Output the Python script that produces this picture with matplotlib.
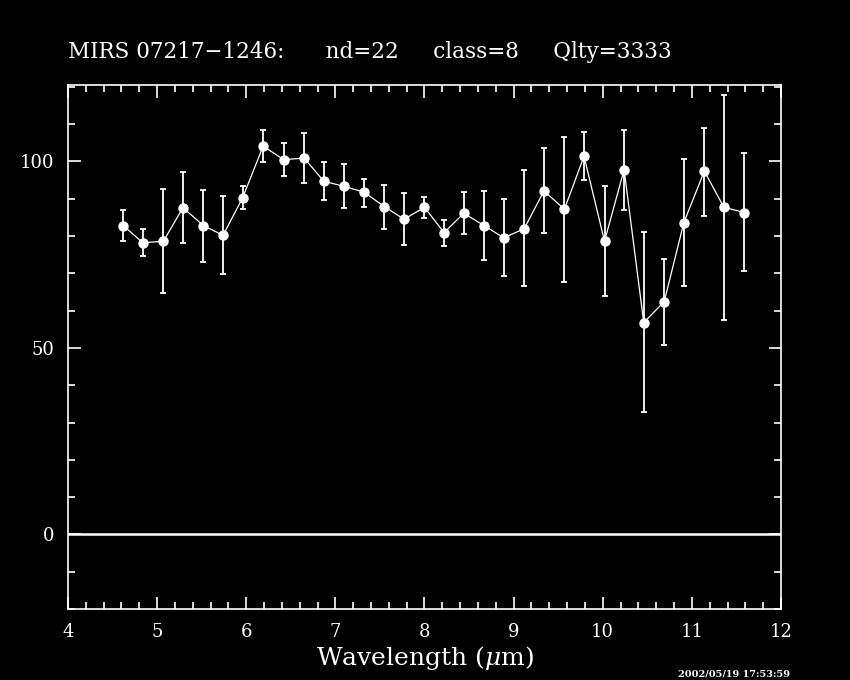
import matplotlib
matplotlib.use("Agg")
import matplotlib.pyplot as plt
from matplotlib.ticker import MultipleLocator

# values
wavelength = [4.62, 4.84, 5.07, 5.29, 5.52, 5.74, 5.96, 6.19, 6.42, 6.65, 6.87,
              7.10, 7.32, 7.55, 7.77, 8.00, 8.22, 8.44, 8.67, 8.89, 9.12, 9.34,
              9.57, 9.79, 10.02, 10.24, 10.46, 10.69, 10.91, 11.14, 11.36, 11.59]
flux = [82.8, 78.2, 78.6, 87.6, 82.8, 80.2, 90.3, 104.1, 100.5, 100.9, 94.7,
        93.3, 91.8, 87.9, 84.5, 87.7, 80.9, 86.1, 82.8, 79.5, 82.0, 92.1,
        87.2, 101.4, 78.6, 97.8, 56.8, 62.4, 83.6, 97.4, 87.7, 86.3]
flux_hi = [87.0, 81.8, 92.6, 97.1, 92.4, 90.8, 93.4, 108.4, 104.9, 107.6, 99.8,
           99.2, 95.4, 93.8, 91.6, 90.4, 84.4, 91.8, 92.1, 89.9, 97.7, 103.5,
           106.5, 107.9, 93.3, 108.5, 81.0, 73.8, 100.7, 109.0, 117.9, 102.4]
flux_lo = [78.6, 74.6, 64.7, 78.1, 73.1, 69.9, 87.2, 99.8, 96.1, 94.2, 89.7,
           87.4, 87.9, 82.0, 77.6, 84.9, 77.2, 80.5, 73.5, 69.4, 66.5, 80.9,
           67.7, 94.9, 64.0, 86.9, 32.7, 50.8, 66.7, 85.5, 57.6, 70.7]

title_text = "MIRS 07217\u22121246:      nd=22     class=8     Qlty=3333"
stamp_text = "2002/05/19 17:53:59"

plt.rcParams['font.family'] = ['DejaVu Serif']
plt.rcParams['mathtext.fontset'] = 'dejavuserif'

fig = plt.figure(figsize=(8.5, 6.8), dpi=100, facecolor='black')
ax = fig.add_axes([0.08, 0.1044, 0.8388, 0.7706], facecolor='black')

err = [[f - lo for f, lo in zip(flux, flux_lo)],
       [hi - f for f, hi in zip(flux, flux_hi)]]
ax.errorbar(wavelength, flux, yerr=err, fmt='o-', color='white', lw=0.9,
            ms=6.5, mec='white', mfc='white', ecolor='white', elinewidth=1.3,
            capsize=2, capthick=1.3)
ax.axhline(0, color='white', lw=1.8)

ax.set_xlim(4, 12)
ax.set_ylim(-20, 120.5)
ax.xaxis.set_major_locator(MultipleLocator(1))
ax.xaxis.set_minor_locator(MultipleLocator(0.2))
ax.yaxis.set_major_locator(MultipleLocator(50))
ax.yaxis.set_minor_locator(MultipleLocator(10))
ax.tick_params(which='both', direction='in', top=True, right=True,
               colors='white', labelcolor='white', width=1.2)
ax.tick_params(which='major', length=9, labelsize=13, pad=10)
ax.tick_params(which='minor', length=5)
for sp in ax.spines.values():
    sp.set_color('white')
    sp.set_linewidth(1.2)

ax.set_xlabel(r"Wavelength ($\mu$m)", color='white', fontsize=18, labelpad=2)
fig.text(0.08, 1 - 58 / 680, title_text, color='white', fontsize=15.5,
         ha='left', va='baseline')
fig.text(0.93, 0.002, stamp_text, color='white', fontsize=7, ha='right',
         va='bottom', fontweight='bold')

fig.savefig("out.png", dpi=100, facecolor='black')
